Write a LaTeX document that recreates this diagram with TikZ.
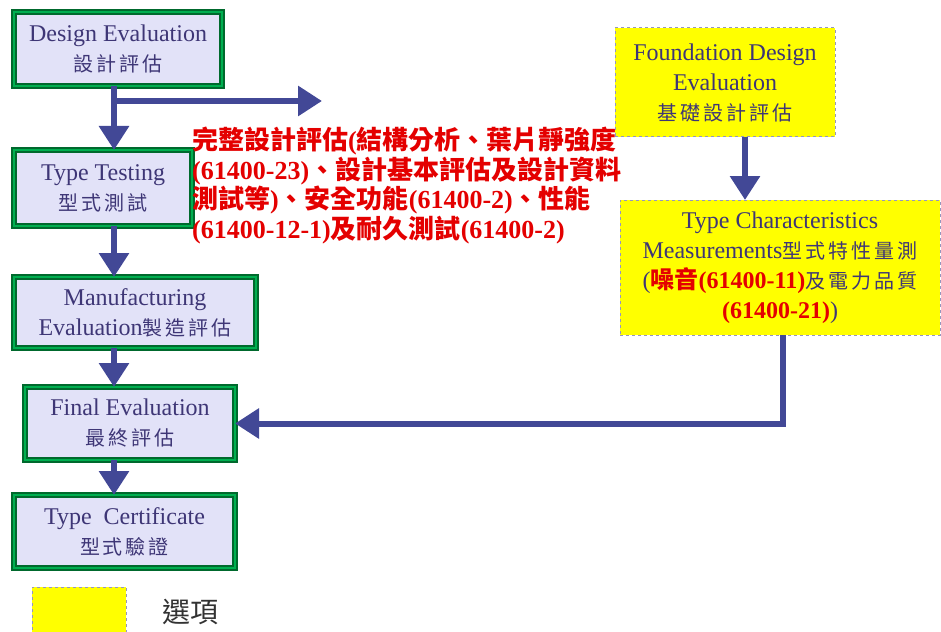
\documentclass[tikz,border=0pt]{standalone}
\usepackage{fontspec}
\setmainfont{Liberation Serif}
\newfontfamily\zh{Noto Sans CJK TC}
\newfontfamily\zhs[LetterSpace=15]{Noto Sans CJK TC}
\usetikzlibrary{arrows.meta,calc}
\definecolor{boxfill}{RGB}{226,226,248}
\definecolor{gdark}{RGB}{0,105,45}
\definecolor{glight}{RGB}{0,175,80}
\definecolor{boxtext}{RGB}{62,54,118}
\definecolor{arrblue}{RGB}{66,72,150}
\definecolor{dashgray}{RGB}{150,150,190}
\definecolor{ylw}{RGB}{255,255,0}
\definecolor{redtxt}{RGB}{228,0,0}
\definecolor{legtxt}{RGB}{50,50,50}
\begin{document}
\begin{tikzpicture}[x=1pt,y=-1pt,
  gbox/.style={draw=gdark, line width=1.5pt, double=glight, double distance=2.5pt,
    fill=boxfill, text=boxtext, align=center, inner sep=0pt, outer sep=0pt,
    font=\fontsize{24}{30}\selectfont},
  ybox/.style={draw=dashgray, dashed, line width=1pt, fill=ylw, text=boxtext,
    align=center, inner sep=0pt, outer sep=0pt, font=\fontsize{24}{30}\selectfont},
  arr/.style={draw=arrblue, line width=6pt, -{Triangle[length=24pt,width=29pt]}},
  zhbox/.style={}]
\useasboundingbox (0,0) rectangle (941,631);

% main column boxes
\node[gbox, minimum width=208, minimum height=74] (de) at (118,49)
  {Design Evaluation\\{\zhs\fontsize{20}{30}\selectfont 設計評估}};
\node[gbox, minimum width=178, minimum height=76] (tt) at (103,188)
  {Type Testing\\{\zhs\fontsize{20}{30}\selectfont 型式測試}};
\node[gbox, minimum width=242, minimum height=71] (mf) at (135,312.5)
  {Manufacturing\\Evaluation{\zhs\fontsize{20}{30}\selectfont 製造評估}};
\node[gbox, minimum width=210, minimum height=73] (fe) at (130,423.5)
  {Final Evaluation\\{\zhs\fontsize{20}{30}\selectfont 最終評估}};
\node[gbox, minimum width=221, minimum height=73] (tc) at (124.5,531.5)
  {Type\ \ Certificate\\{\zhs\fontsize{20}{30}\selectfont 型式驗證}};

% optional boxes
\node[ybox, minimum width=220, minimum height=109] (fd) at (725,82.5)
  {Foundation Design\\Evaluation\\{\zhs\fontsize{20}{30}\selectfont 基礎設計評估}};
\node[ybox, minimum width=320, minimum height=135] (tcm) at (780,267.5)
  {Type Characteristics\\Measurements{\zhs\fontsize{20}{30}\selectfont 型式特性量測}\\
   ({\color{redtxt}\bfseries{\zh 噪音}(61400-11)}{\zhs\fontsize{20}{30}\selectfont 及電力品質}\\
   {\color{redtxt}\bfseries (61400-21)})};

% red description
\node[anchor=north west, align=left, inner sep=0pt, text=redtxt,
  font=\bfseries\fontsize{26}{29.5}\selectfont] (rt) at (192,127)
  {{\zh 完整設計評估}({\zh 結構分析、葉片靜強度}\\
   (61400-23){\zh 、設計基本評估及設計資料}\\
   {\zh 測試等}){\zh 、安全功能}(61400-2){\zh 、性能}\\
   (61400-12-1){\zh 及耐久測試}(61400-2)};

% legend
\node[ybox, minimum width=94, minimum height=60, anchor=north west] (lg) at (32,587) {};
\node[text=legtxt, font=\fontsize{28}{30}\selectfont\zh, inner sep=0pt] (lgt) at (190,612) {選項};

% connector helpers
\coordinate (xa) at (114,0);
\coordinate (xb) at (745,0);
\coordinate (xc) at (783,0);
\coordinate (brs) at (114,101);
\coordinate (bre) at (322,101);

\draw[arr] (de.south -| xa) -- (tt.north -| xa);
\draw[arr] (brs) -- (bre);
\draw[arr] (tt.south -| xa) -- (mf.north -| xa);
\draw[arr] (mf.south -| xa) -- (fe.north -| xa);
\draw[arr] (fe.south -| xa) -- (tc.north -| xa);
\draw[arr] (fd.south -| xb) -- (tcm.north -| xb);
\draw[arr] (tcm.south -| xc) |- (fe.east);
\end{tikzpicture}
\end{document}
